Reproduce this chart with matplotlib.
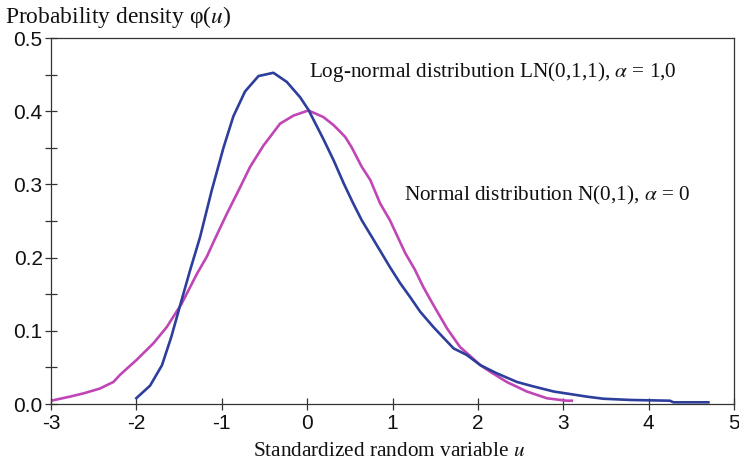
import matplotlib
matplotlib.use("Agg")
import matplotlib.pyplot as plt
from matplotlib.ticker import MultipleLocator, FormatStrFormatter

# ---- data ----
normal_u = [-3.0, -2.78, -2.62, -2.43, -2.27, -2.19, -2.0, -1.80, -1.645, -1.47,
            -1.29, -1.176, -1.078, -0.94, -0.785, -0.668, -0.512, -0.317, -0.16, 0.015,
            0.19, 0.31, 0.445, 0.52, 0.64, 0.74, 0.855, 0.97, 1.15, 1.26,
            1.36, 1.48, 1.64, 1.79, 2.03, 2.145, 2.34, 2.575, 2.81, 3.04, 3.10]
normal_phi = [0.0045, 0.010, 0.0145, 0.021, 0.030, 0.040, 0.060, 0.083, 0.105, 0.137,
              0.178, 0.201, 0.226, 0.260, 0.296, 0.324, 0.353, 0.383, 0.394, 0.401,
              0.392, 0.381, 0.365, 0.351, 0.324, 0.306, 0.274, 0.251, 0.206, 0.184,
              0.160, 0.135, 0.103, 0.078, 0.053, 0.044, 0.030, 0.017, 0.0078, 0.0045, 0.0045]

lognorm_u = [-2.0, -1.84, -1.70, -1.59, -1.47, -1.37, -1.254, -1.117, -0.98, -0.864,
             -0.727, -0.57, -0.395, -0.238, -0.082, 0.015, 0.19, 0.31, 0.43, 0.54,
             0.64, 0.78, 0.97, 1.09, 1.207, 1.325, 1.48, 1.715, 1.87, 2.03,
             2.22, 2.46, 2.65, 2.89, 3.08, 3.28, 3.47, 3.79, 4.25, 4.29, 4.70]
lognorm_phi = [0.008, 0.025, 0.053, 0.092, 0.142, 0.183, 0.228, 0.292, 0.350, 0.393,
               0.427, 0.448, 0.4525, 0.440, 0.419, 0.402, 0.362, 0.333, 0.301, 0.274,
               0.251, 0.224, 0.187, 0.165, 0.146, 0.126, 0.105, 0.076, 0.067, 0.053,
               0.042, 0.030, 0.024, 0.017, 0.0136, 0.010, 0.0072, 0.0055, 0.0045, 0.0023, 0.0023]

x_ticks = [-3, -2, -1, 0, 1, 2, 3, 4, 5]
y_ticks = [0.0, 0.1, 0.2, 0.3, 0.4, 0.5]

title_text = "Probability density φ($u$)"
xlabel_text = "Standardized random variable $u$"
label_lognorm = "Log-normal distribution LN(0,1,1), $\\alpha$ = 1,0"
label_normal = "Normal distribution N(0,1), $\\alpha$ = 0"

plt.rcParams['axes.unicode_minus'] = False
plt.rcParams['mathtext.fontset'] = 'stix'

fig = plt.figure(figsize=(7.39, 4.66), dpi=100)
ax = fig.add_axes([51 / 739, 1 - 404 / 466, (734 - 51) / 739, (404 - 38) / 466])

ax.plot(normal_u, normal_phi, color='#C046B6', lw=1.9, solid_joinstyle='round')
ax.plot(lognorm_u, lognorm_phi, color='#2D3E9C', lw=1.9, solid_joinstyle='round')

ax.set_xlim(-3, 5)
ax.set_ylim(0, 0.5)
ax.set_xticks(x_ticks)
ax.set_yticks(y_ticks)
ax.yaxis.set_minor_locator(MultipleLocator(0.05))
ax.yaxis.set_major_formatter(FormatStrFormatter('%.1f'))
ax.xaxis.set_major_formatter(FormatStrFormatter('%d'))

for sp in ax.spines.values():
    sp.set_color('#333333')
    sp.set_linewidth(0.9)

ax.tick_params(which='both', direction='inout', color='#333333', width=0.9,
               labelsize=15, labelcolor='#111111')
ax.tick_params(axis='y', which='both', length=8, pad=2)
ax.tick_params(axis='x', which='major', length=8, pad=3)
for lab in ax.get_xticklabels() + ax.get_yticklabels():
    lab.set_family('Liberation Sans')

serif = 'Liberation Serif'
fig.text(5 / 739, 1 - 17 / 466, title_text, family=serif, fontsize=16.9,
         ha='left', va='center', color='#111111')
fig.text((254 + 525) / 2 / 739, 1 - 452 / 466, xlabel_text, family=serif, fontsize=15.3,
         ha='center', va='center', color='#111111')
ax.text(0.023, 0.453, label_lognorm, family=serif, fontsize=15.3,
        ha='left', va='center', color='#111111')
ax.text(1.14, 0.285, label_normal, family=serif, fontsize=15.3,
        ha='left', va='center', color='#111111')

fig.savefig('out.png', dpi=100)
